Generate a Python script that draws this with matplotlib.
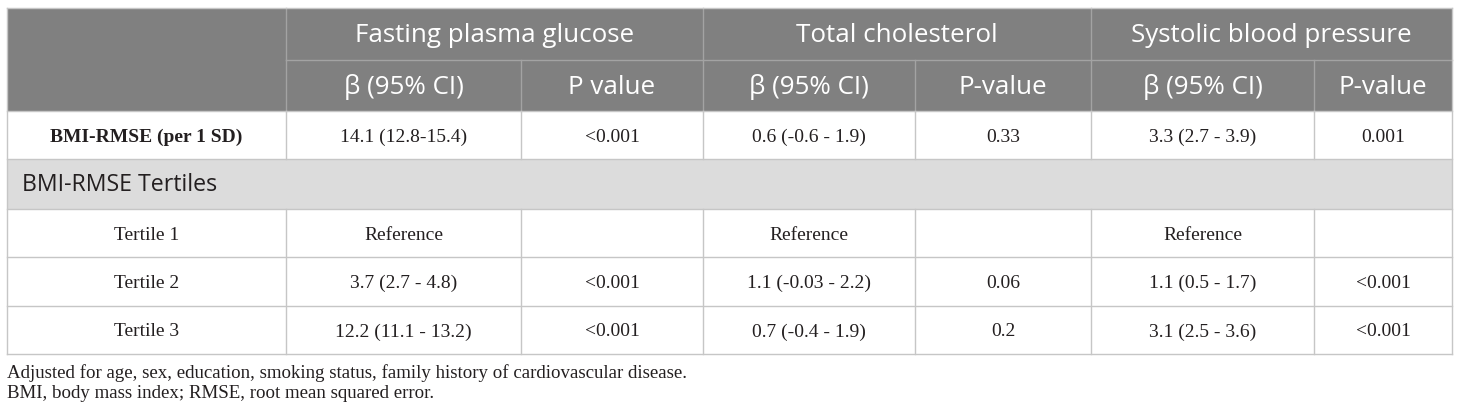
import matplotlib.pyplot as plt
from matplotlib.patches import Rectangle

# ---------------------------------------------
# table content
# ---------------------------------------------
outcomes = ["Fasting plasma glucose", "Total cholesterol", "Systolic blood pressure"]
sub_headers = ["β (95% CI)", "P value", "β (95% CI)", "P-value", "β (95% CI)", "P-value"]

per_sd_label = "BMI-RMSE (per 1 SD)"
per_sd_values = ["14.1 (12.8-15.4)", "<0.001", "0.6 (-0.6 - 1.9)", "0.33", "3.3 (2.7 - 3.9)", "0.001"]

section_label = "BMI-RMSE Tertiles"
tertile_labels = ["Tertile 1", "Tertile 2", "Tertile 3"]
tertile_values = [
    ["Reference", "", "Reference", "", "Reference", ""],
    ["3.7 (2.7 - 4.8)", "<0.001", "1.1 (-0.03 - 2.2)", "0.06", "1.1 (0.5 - 1.7)", "<0.001"],
    ["12.2 (11.1 - 13.2)", "<0.001", "0.7 (-0.4 - 1.9)", "0.2", "3.1 (2.5 - 3.6)", "<0.001"],
]

footnotes = [
    "Adjusted for age, sex, education, smoking status, family history of cardiovascular disease.",
    "BMI, body mass index; RMSE, root mean squared error.",
]

# ---------------------------------------------
# layout (pixels)
# ---------------------------------------------
col_x = [7, 286, 521, 703, 915, 1091, 1314, 1452]
row_y = [8, 60, 111, 159, 209, 257, 306, 354]

head_bg = "#808080"
head_line = "#a3a3a3"
sect_bg = "#dcdcdc"
grid = "#c6c6c6"
txt = "#231f20"
sans = "Open Sans"
serif = "Liberation Serif"
body_fs = 14

fig = plt.figure(figsize=(14.6, 4.16), dpi=100)
ax = fig.add_axes([0, 0, 1, 1])
ax.set_xlim(0, 1460)
ax.set_ylim(416, 0)
ax.axis("off")

left, right = col_x[0], col_x[-1]

# backgrounds
ax.add_patch(Rectangle((left, row_y[0]), right - left, row_y[2] - row_y[0], color=head_bg, lw=0))
ax.add_patch(Rectangle((left, row_y[3]), right - left, row_y[4] - row_y[3], color=sect_bg, lw=0))

# header lines
ax.plot([col_x[1], right], [row_y[1], row_y[1]], color=head_line, lw=1)
for x in [col_x[1], col_x[3], col_x[5]]:
    ax.plot([x, x], [row_y[0], row_y[1]], color=head_line, lw=1)
for x in col_x[1:-1]:
    ax.plot([x, x], [row_y[1], row_y[2]], color=head_line, lw=1)

# body lines
for y in row_y[2:]:
    ax.plot([left, right], [y, y], color=grid, lw=1)
ax.plot([left, right], [row_y[0], row_y[0]], color=grid, lw=1)
for x in [left, right]:
    ax.plot([x, x], [row_y[0], row_y[-1]], color=grid, lw=1)
for x in col_x[1:-1]:
    ax.plot([x, x], [row_y[2], row_y[3]], color=grid, lw=1)
    ax.plot([x, x], [row_y[4], row_y[-1]], color=grid, lw=1)

# header text
for i, name in enumerate(outcomes):
    cx = (col_x[1 + 2 * i] + col_x[3 + 2 * i]) / 2
    ax.text(cx, (row_y[0] + row_y[1]) / 2 + 1.5, name, color="white", fontsize=18.7,
            family=sans, ha="center", va="center")
for i, name in enumerate(sub_headers):
    cx = (col_x[1 + i] + col_x[2 + i]) / 2
    ax.text(cx, (row_y[1] + row_y[2]) / 2 + 1.5, name, color="white", fontsize=18.7,
            family=sans, ha="center", va="center")

# per SD row
cy = (row_y[2] + row_y[3]) / 2 + 2
ax.text((col_x[0] + col_x[1]) / 2, cy, per_sd_label, color=txt, fontsize=body_fs,
        family=serif, weight="bold", ha="center", va="center")
for i, v in enumerate(per_sd_values):
    ax.text((col_x[1 + i] + col_x[2 + i]) / 2, cy, v, color=txt, fontsize=body_fs,
            family=serif, ha="center", va="center")

# section row
ax.text(col_x[0] + 15, (row_y[3] + row_y[4]) / 2 + 1, section_label, color=txt,
        fontsize=16.7, family=sans, ha="left", va="center")

# tertile rows
for r, (lab, vals) in enumerate(zip(tertile_labels, tertile_values)):
    cy = (row_y[4 + r] + row_y[5 + r]) / 2 + 2
    ax.text((col_x[0] + col_x[1]) / 2, cy, lab, color=txt, fontsize=body_fs,
            family=serif, ha="center", va="center")
    for i, v in enumerate(vals):
        ax.text((col_x[1 + i] + col_x[2 + i]) / 2, cy, v, color=txt, fontsize=body_fs,
                family=serif, ha="center", va="center")

# footnotes
for k, note in enumerate(footnotes):
    ax.text(left, 373 + 21 * k, note, color=txt, fontsize=13.6, family=serif,
            ha="left", va="center")

fig.savefig("out.png", dpi=100)
